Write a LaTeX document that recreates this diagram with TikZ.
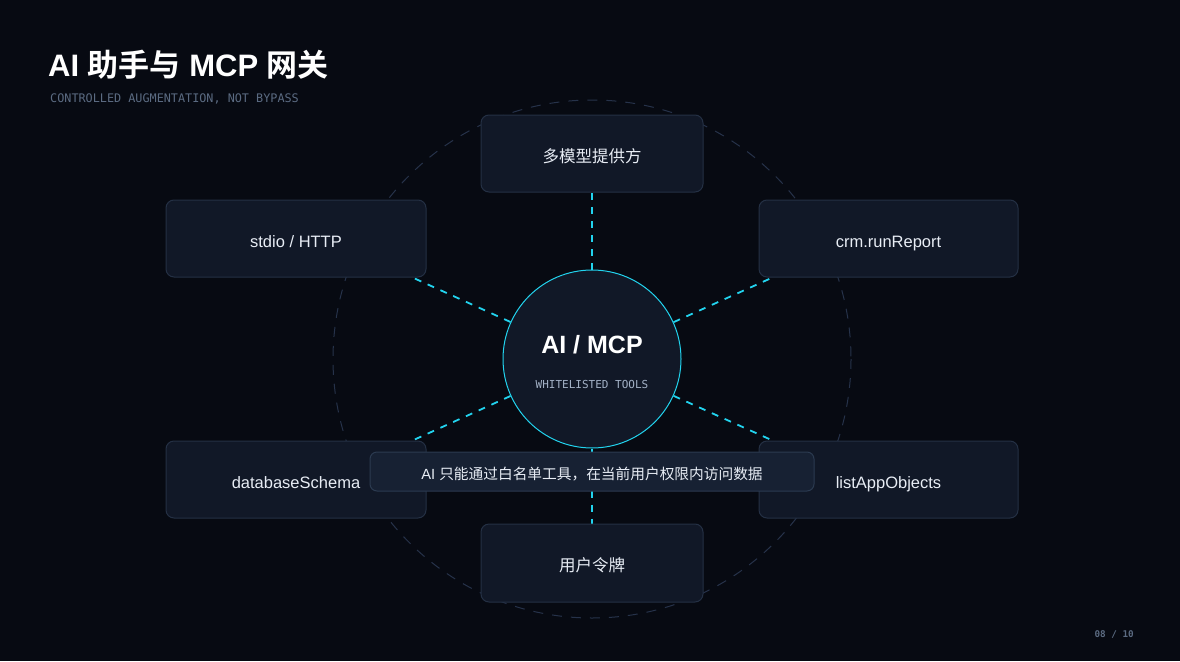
\documentclass[tikz,border=0pt]{standalone}
\usepackage{fontspec}
\setmainfont{Liberation Sans}
\newfontfamily\cjk{Noto Sans CJK SC}[BoldFont={Noto Sans CJK SC Bold}]
\newfontfamily\monofont{DejaVu Sans Mono}
\usepackage{xcolor}
\definecolor{pagebg}{HTML}{070A12}
\definecolor{boxfill}{HTML}{111827}
\definecolor{boxline}{HTML}{243044}
\definecolor{capfill}{HTML}{172133}
\definecolor{capline}{HTML}{2B3A50}
\definecolor{accent}{HTML}{22D3EE}
\definecolor{orbit}{HTML}{26324A}
\definecolor{subgray}{HTML}{5B6B82}
\definecolor{hubgray}{HTML}{A3B1C6}
\definecolor{textwhite}{HTML}{E8EDF5}
\pgfdeclarelayer{back}
\pgfdeclarelayer{links}
\pgfsetlayers{back,links,main}
\tikzset{
  card/.style={draw=boxline, line width=1pt, fill=boxfill, rounded corners=8pt,
    minimum height=77pt, inner sep=0pt, text=textwhite, text height=17pt, text depth=0pt},
  cardtext/.style={font=\fontsize{16.5}{20}\selectfont},
  cardcjk/.style={font=\cjk\fontsize{16.5}{20}\selectfont},
  link/.style={draw=accent, line width=1.8pt, dash pattern=on 7pt off 7pt},
}

\begin{document}
\begin{tikzpicture}[x=1pt,y=-1pt]
\begin{pgfonlayer}{back}
\fill[pagebg] (0,0) rectangle (1180,661);
\draw[orbit, line width=1pt, dash pattern=on 10pt off 9pt] (592,359) circle (259);
\end{pgfonlayer}

% title
\node[anchor=base west, inner sep=0pt, text=white, font=\bfseries\fontsize{31}{35}\selectfont] (title) at (48,76)
  {AI {\cjk 助手与} MCP {\cjk 网关}};
\node[anchor=base west, inner sep=0pt, text=subgray, font=\monofont\fontsize{11.8}{14}\selectfont] (subtitle) at (50,102) {CONTROLLED AUGMENTATION, NOT BYPASS};

% hub
\node[circle, draw=accent, line width=1pt, fill=boxfill, minimum size=178pt, inner sep=0pt] (hub) at (592,359) {};
\node[text=white, font=\bfseries\fontsize{25}{28}\selectfont] (hubtitle) at (592,345) {AI / MCP};
\node[text=hubgray, font=\monofont\fontsize{11}{13}\selectfont] (hubsub) at (592,384) {WHITELISTED TOOLS};

% cards
\node[card, cardcjk, minimum width=222pt] (models) at (592,153.5) {多模型提供方};
\node[card, cardtext, minimum width=260pt] (stdio) at (296,238.5) {stdio / HTTP};
\node[card, cardtext, minimum width=259pt] (crm) at (888.5,238.5) {crm.runReport};
\node[card, cardtext, minimum width=260pt] (schema) at (296,479.5) {databaseSchema};
\node[card, cardtext, minimum width=259pt] (objects) at (888.5,479.5) {listAppObjects};
\node[card, cardcjk, minimum width=222pt, minimum height=78pt] (token) at (592,563) {用户令牌};

% caption
\node[draw=capline, line width=1pt, fill=capfill, rounded corners=7pt, minimum width=444pt, minimum height=39pt,
  inner sep=0pt, text height=15.5pt, text depth=0pt, text=textwhite, font=\fontsize{14.7}{17}\selectfont] (caption) at (592,471.5)
  {AI {\cjk 只能通过白名单工具，在当前用户权限内访问数据}};

\node[anchor=base east, inner sep=0pt, text=subgray, font=\monofont\bfseries\fontsize{9.3}{11}\selectfont] (pageno) at (1134,637) {08 / 10};

\begin{pgfonlayer}{links}
\draw[link] (hub) -- (models);
\draw[link] (hub) -- (token);
\draw[link] (hub) -- ([xshift=-14pt]stdio.south east);
\draw[link] (hub) -- ([xshift=14pt]crm.south west);
\draw[link] (hub) -- ([xshift=-14pt]schema.north east);
\draw[link] (hub) -- ([xshift=14pt]objects.north west);
\end{pgfonlayer}
\end{tikzpicture}
\end{document}
